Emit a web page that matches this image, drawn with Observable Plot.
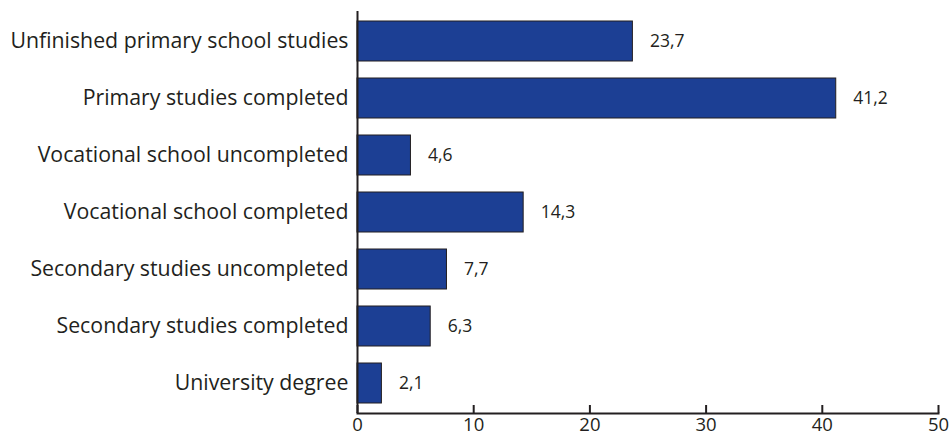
<!DOCTYPE html>
<html>
<head>
<meta charset="utf-8">
<script src="https://cdn.jsdelivr.net/npm/d3@7"></script>
<script src="https://cdn.jsdelivr.net/npm/@observablehq/plot@0.6"></script>
<style>
  body { margin: 0; background: #fff; }
  #chart svg { display: block; }
</style>
</head>
<body>
<div id="chart"></div>
<script>
const categories = [
  "Unfinished primary school studies",
  "Primary studies completed",
  "Vocational school uncompleted",
  "Vocational school completed",
  "Secondary studies uncompleted",
  "Secondary studies completed",
  "University degree"
];
const values = [23.7, 41.2, 4.6, 14.3, 7.7, 6.3, 2.1];
const xTicks = [0, 10, 20, 30, 40, 50];

const data = categories.map((c, i) => ({category: c, value: values[i]}));
const fmt = v => v.toFixed(1).replace(".", ",");
const ink = "#231f20";

const chart = Plot.plot({
  width: 952,
  height: 441,
  marginLeft: 357,
  marginRight: 14,
  marginTop: 11,
  marginBottom: 28,
  style: {fontFamily: "'Open Sans', sans-serif", color: ink, background: "#fff"},
  x: {domain: [0, 50], ticks: xTicks},
  y: {domain: categories, paddingInner: 0.29, paddingOuter: 0.13},
  marks: [
    Plot.barX(data, {x: "value", y: "category", fill: "#1c3f94", stroke: ink, strokeWidth: 1}),
    Plot.text(data, {x: "value", y: "category", text: d => fmt(d.value), textAnchor: "start", dx: 17, fontSize: 17.5, fill: ink}),
    Plot.ruleX([0], {stroke: ink, strokeWidth: 2}),
    Plot.frame({anchor: "bottom", stroke: ink, strokeWidth: 2}),
    Plot.axisX({ticks: xTicks, tickSize: -8, tickPadding: 12, fontSize: 18.5, stroke: ink, strokeWidth: 2, fill: ink, label: null}),
    Plot.axisY({tickSize: 0, tickPadding: 9, fontSize: 21.3, fill: ink, label: null})
  ]
});
document.getElementById("chart").append(chart);
</script>
</body>
</html>
